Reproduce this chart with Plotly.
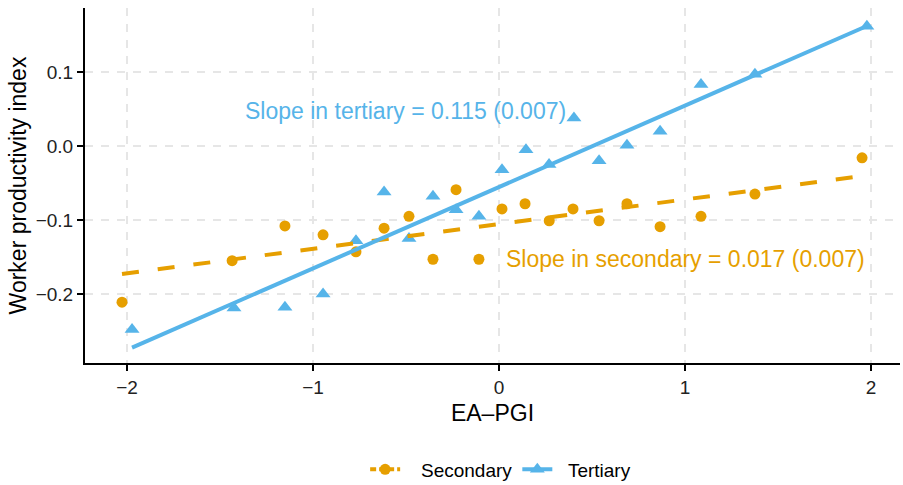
import numpy as np
import plotly.graph_objects as go

# ---- data ----
sec_x = [-2.027, -1.435, -1.151, -0.946, -0.769, -0.618, -0.484, -0.355, -0.231, -0.108,
         0.016, 0.140, 0.270, 0.398, 0.538, 0.688, 0.866, 1.086, 1.376, 1.952]
sec_y = [-0.211, -0.155, -0.108, -0.120, -0.143, -0.111, -0.095, -0.153, -0.059, -0.153,
         -0.085, -0.078, -0.101, -0.085, -0.101, -0.078, -0.109, -0.095, -0.065, -0.016]

ter_x = [-1.973, -1.425, -1.151, -0.946, -0.769, -0.618, -0.484, -0.355, -0.231, -0.108,
         0.016, 0.145, 0.269, 0.403, 0.538, 0.688, 0.866, 1.086, 1.376, 1.978]
ter_y = [-0.248, -0.219, -0.218, -0.200, -0.128, -0.062, -0.125, -0.068, -0.086, -0.095,
         -0.032, -0.005, -0.025, 0.038, -0.020, 0.001, 0.020, 0.083, 0.097, 0.162]

# fitted lines (intercept, slope) as drawn in the reference
sec_fit = (-0.1055, 0.0333)
ter_fit = (-0.0554, 0.1100)

labels = ["Secondary", "Tertiary"]
annot_ter = "Slope in tertiary = 0.115 (0.007)"
annot_sec = "Slope in secondary = 0.017 (0.007)"

x_ticks = [-2, -1, 0, 1, 2]
y_ticks = [-0.2, -0.1, 0.0, 0.1]

ORANGE = "#E69F00"
BLUE = "#56B4E9"
FONT = "Liberation Sans, Arial, Helvetica, sans-serif"

def fit_line(xs, fit):
    xx = np.array([min(xs), max(xs)])
    return xx, fit[0] + fit[1] * xx

fig = go.Figure()

fig.add_trace(go.Scatter(x=sec_x, y=sec_y, mode="markers", showlegend=False,
                         marker=dict(color=ORANGE, size=11, symbol="circle")))
fig.add_trace(go.Scatter(x=ter_x, y=ter_y, mode="markers", showlegend=False,
                         marker=dict(color=BLUE, size=13, symbol="triangle-up")))

lx, ly = fit_line(sec_x, sec_fit)
fig.add_trace(go.Scatter(x=lx, y=ly, mode="lines", showlegend=False,
                         line=dict(color=ORANGE, width=4, dash="17px,19px")))
lx, ly = fit_line(ter_x, ter_fit)
fig.add_trace(go.Scatter(x=lx, y=ly, mode="lines", showlegend=False,
                         line=dict(color=BLUE, width=4)))

# legend entries
fig.add_trace(go.Scatter(x=[None], y=[None], mode="lines+markers",
                         name="\u00a0\u00a0\u00a0" + labels[0],
                         line=dict(color=ORANGE, width=4, dash="6px,3px"),
                         marker=dict(color=ORANGE, size=11, symbol="circle")))
fig.add_trace(go.Scatter(x=[None], y=[None], mode="lines+markers",
                         name="\u00a0\u00a0" + labels[1],
                         line=dict(color=BLUE, width=4),
                         marker=dict(color=BLUE, size=13, symbol="triangle-up")))

fig.add_annotation(x=-0.505, y=0.0473, text=annot_ter, showarrow=False,
                   font=dict(color=BLUE, size=23, family=FONT),
                   xanchor="center", yanchor="middle")
fig.add_annotation(x=1.0, y=-0.1527, text=annot_sec, showarrow=False,
                   font=dict(color=ORANGE, size=23, family=FONT),
                   xanchor="center", yanchor="middle")

axis_common = dict(
    showline=True, linecolor="black", linewidth=2,
    ticks="outside", ticklen=6, tickwidth=2, tickcolor="black",
    showgrid=True, gridcolor="#e6e6e6", gridwidth=2, griddash="8px,8px",
    zeroline=False, tickfont=dict(size=19, color="#222222", family=FONT),
    title_font=dict(size=23, color="black", family=FONT),
)

fig.update_xaxes(range=[-2.226, 2.156], tickvals=x_ticks,
                 title_text="EA\u2013PGI", title_standoff=8, **axis_common)
fig.update_yaxes(range=[-0.2932, 0.1865], tickvals=y_ticks, tickformat=".1f",
                 title_text="Worker productivity index", title_standoff=3, **axis_common)

fig.update_layout(
    width=903, height=485,
    margin=dict(l=85, r=3, t=8, b=122, autoexpand=False),
    plot_bgcolor="white", paper_bgcolor="white",
    font=dict(family=FONT, color="black"),
    legend=dict(orientation="h", x=0.51, xanchor="center", y=-0.30, yanchor="middle",
                font=dict(size=19, family=FONT), itemwidth=30),
)

fig.write_html("out.html")
